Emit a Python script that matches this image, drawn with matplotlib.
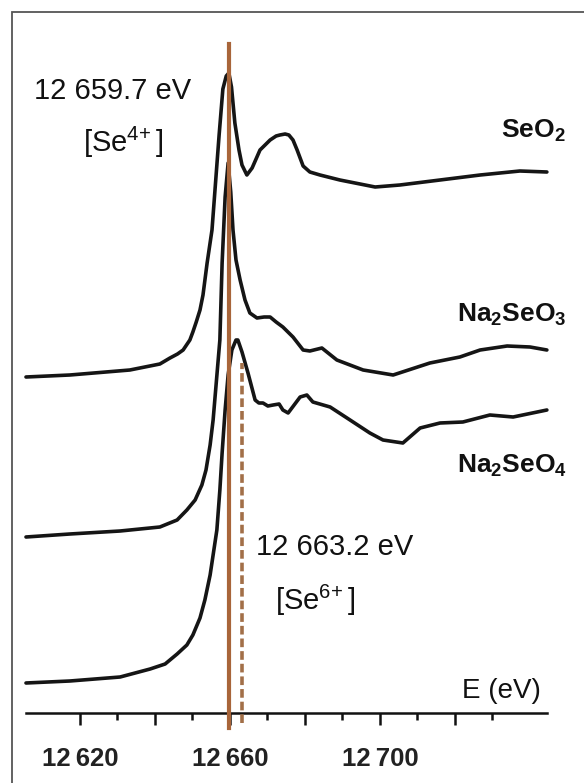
import matplotlib
matplotlib.use("Agg")
import matplotlib.pyplot as plt
from matplotlib.patches import Rectangle
from matplotlib.ticker import FixedLocator, FixedFormatter

plt.rcParams['font.family'] = ['Liberation Sans', 'DejaVu Sans']
plt.rcParams['mathtext.fontset'] = 'custom'
plt.rcParams['mathtext.rm'] = 'Liberation Sans'
plt.rcParams['mathtext.it'] = 'Liberation Sans:italic'
plt.rcParams['mathtext.bf'] = 'Liberation Sans:bold'

# Se K-edge XANES spectra (energy in eV, absorbance relative to own pre-edge, a.u.)
e_seo2 = [12605.6, 12617.3, 12633.3, 12641.3, 12644.0, 12646.0, 12647.5, 12649.3,
          12650.1, 12651.0, 12652.0, 12652.8, 12653.9, 12655.2, 12656.0, 12657.1,
          12658.1, 12659.0, 12659.7, 12660.4, 12661.3, 12662.4, 12663.2, 12664.5,
          12665.9, 12668.0, 12670.7, 12672.3, 12673.3, 12674.7, 12675.7, 12676.8,
          12677.9, 12679.5, 12681.3, 12684.0, 12689.3, 12698.7, 12705.3, 12716.0,
          12726.7, 12737.3, 12744.5]
mu_seo2 = [0.00, 0.02, 0.07, 0.13, 0.19, 0.23, 0.27, 0.37,
           0.45, 0.55, 0.67, 0.82, 1.14, 1.47, 1.87, 2.42,
           2.88, 3.01, 3.04, 2.90, 2.54, 2.27, 2.12, 2.02,
           2.09, 2.27, 2.37, 2.41, 2.42, 2.43, 2.42, 2.37,
           2.27, 2.11, 2.05, 2.02, 1.97, 1.90, 1.92, 1.97,
           2.02, 2.06, 2.05]

e_na2seo3 = [12605.6, 12617.3, 12630.7, 12641.3, 12645.9, 12648.5, 12650.7, 12652.5,
             12653.6, 12654.7, 12655.5, 12657.3, 12657.9, 12658.7, 12659.5, 12660.2,
             12660.8, 12661.6, 12662.7, 12664.0, 12665.3, 12667.2, 12669.1, 12670.7,
             12672.3, 12674.1, 12676.8, 12679.5, 12681.3, 12684.5, 12688.5, 12695.5,
             12703.5, 12713.3, 12721.3, 12726.7, 12733.9, 12740.0, 12744.5]
mu_na2seo3 = [0.00, 0.03, 0.06, 0.10, 0.17, 0.27, 0.37, 0.52,
              0.67, 0.92, 1.17, 1.97, 2.74, 3.40, 3.74, 3.45,
              3.07, 2.77, 2.57, 2.37, 2.24, 2.19, 2.20, 2.20,
              2.15, 2.10, 2.00, 1.87, 1.86, 1.89, 1.77, 1.67,
              1.62, 1.74, 1.80, 1.87, 1.91, 1.90, 1.87]

e_na2seo4 = [12605.6, 12617.3, 12630.7, 12638.7, 12642.7, 12645.9, 12648.5, 12650.1,
             12652.0, 12653.3, 12654.7, 12655.7, 12656.5, 12657.3, 12657.9, 12658.7,
             12659.5, 12660.5, 12661.6, 12662.1, 12663.2, 12664.8, 12666.7, 12667.7,
             12668.8, 12670.1, 12671.5, 12673.1, 12674.1, 12675.5, 12677.3, 12678.7,
             12680.5, 12682.1, 12686.7, 12691.2, 12697.3, 12700.8, 12706.1, 12710.7,
             12716.0, 12722.1, 12729.3, 12735.5, 12744.5]
mu_na2seo4 = [0.00, 0.02, 0.06, 0.14, 0.19, 0.29, 0.38, 0.48,
              0.65, 0.83, 1.08, 1.33, 1.53, 1.93, 2.30, 2.73,
              3.08, 3.33, 3.43, 3.43, 3.31, 3.10, 2.83, 2.80,
              2.80, 2.77, 2.78, 2.79, 2.73, 2.70, 2.79, 2.86,
              2.88, 2.81, 2.76, 2.65, 2.50, 2.43, 2.40, 2.55,
              2.60, 2.61, 2.68, 2.66, 2.73]

offsets = [4.06, 2.46, 1.00]
names = [r'$\mathbf{SeO_2}$', r'$\mathbf{Na_2SeO_3}$', r'$\mathbf{Na_2SeO_4}$']

e_se4 = 12659.7
e_se6 = 12663.2

major_ticks = [12620, 12640, 12660, 12680, 12700, 12720]
minor_ticks = [12630, 12650, 12670, 12690, 12710, 12730]
tick_labels = ['12\u2009620', '', '12\u2009660', '', '12\u2009700', '']

fig = plt.figure(figsize=(5.84, 7.83), dpi=100)
ax = fig.add_axes([0, 0, 1, 1])
ax.set_xlim(12598.67, 12754.4)
ax.set_ylim(0, 7.83)

# scanned frame around the figure
fig.patches.append(Rectangle((12 / 584, -0.05), 1.2, 1 - 12 / 783 + 0.05,
                             transform=fig.transFigure, fill=False,
                             edgecolor='#555555', linewidth=1.3))

curves = [(e_seo2, mu_seo2), (e_na2seo3, mu_na2seo3), (e_na2seo4, mu_na2seo4)]
for (e, mu), off in zip(curves, offsets):
    ax.plot(e, [m + off for m in mu], color='#151515', lw=2.6, zorder=2,
            solid_joinstyle='round', solid_capstyle='round')

# edge positions
ax.plot([e_se4, e_se4], [0.55, 7.39], color='#A8653A', lw=3.0, zorder=3)
ax.plot([e_se6, e_se6], [0.60, 4.20], color='#A26F48', lw=2.6, zorder=3,
        dashes=(2.4, 1.1))

# axis
for s in ['left', 'right', 'top']:
    ax.spines[s].set_visible(False)
ax.spines['bottom'].set_position(('data', 0.70))
ax.spines['bottom'].set_bounds(12605.6, 12744.5)
ax.spines['bottom'].set_linewidth(1.8)
ax.spines['bottom'].set_color('#111111')
ax.yaxis.set_visible(False)
ax.xaxis.set_major_locator(FixedLocator(major_ticks))
ax.xaxis.set_major_formatter(FixedFormatter(tick_labels))
ax.xaxis.set_minor_locator(FixedLocator(minor_ticks))
ax.tick_params(axis='x', which='major', direction='out', length=8.5, width=1.8,
               color='#111111', pad=16, labelsize=18.5)
ax.tick_params(axis='x', which='minor', direction='out', length=5, width=1.8,
               color='#111111')
for lab in ax.get_xticklabels():
    lab.set_fontweight('bold')
    lab.set_color('#222222')

# labels
ax.text(12740.9, 6.45, names[0], fontsize=19, ha='center', va='baseline', color='#111111')
ax.text(12735.1, 4.61, names[1], fontsize=19, ha='center', va='baseline', color='#111111')
ax.text(12735.3, 3.10, names[2], fontsize=19, ha='center', va='baseline', color='#111111')

ax.text(12628.7, 6.84, '12 659.7 eV', fontsize=21, ha='center', va='baseline', color='#111111')
ax.text(12631.5, 6.31, r'[Se$^{4\!+}$]', fontsize=21, ha='center', va='baseline', color='#111111')
ax.text(12687.9, 2.28, '12 663.2 eV', fontsize=21, ha='center', va='baseline', color='#111111')
ax.text(12682.8, 1.73, r'[Se$^{6\!+}$]', fontsize=21, ha='center', va='baseline', color='#111111')
ax.text(12732.5, 0.85, 'E (eV)', fontsize=20, ha='center', va='baseline', color='#111111')

fig.savefig('out.png', dpi=100)
